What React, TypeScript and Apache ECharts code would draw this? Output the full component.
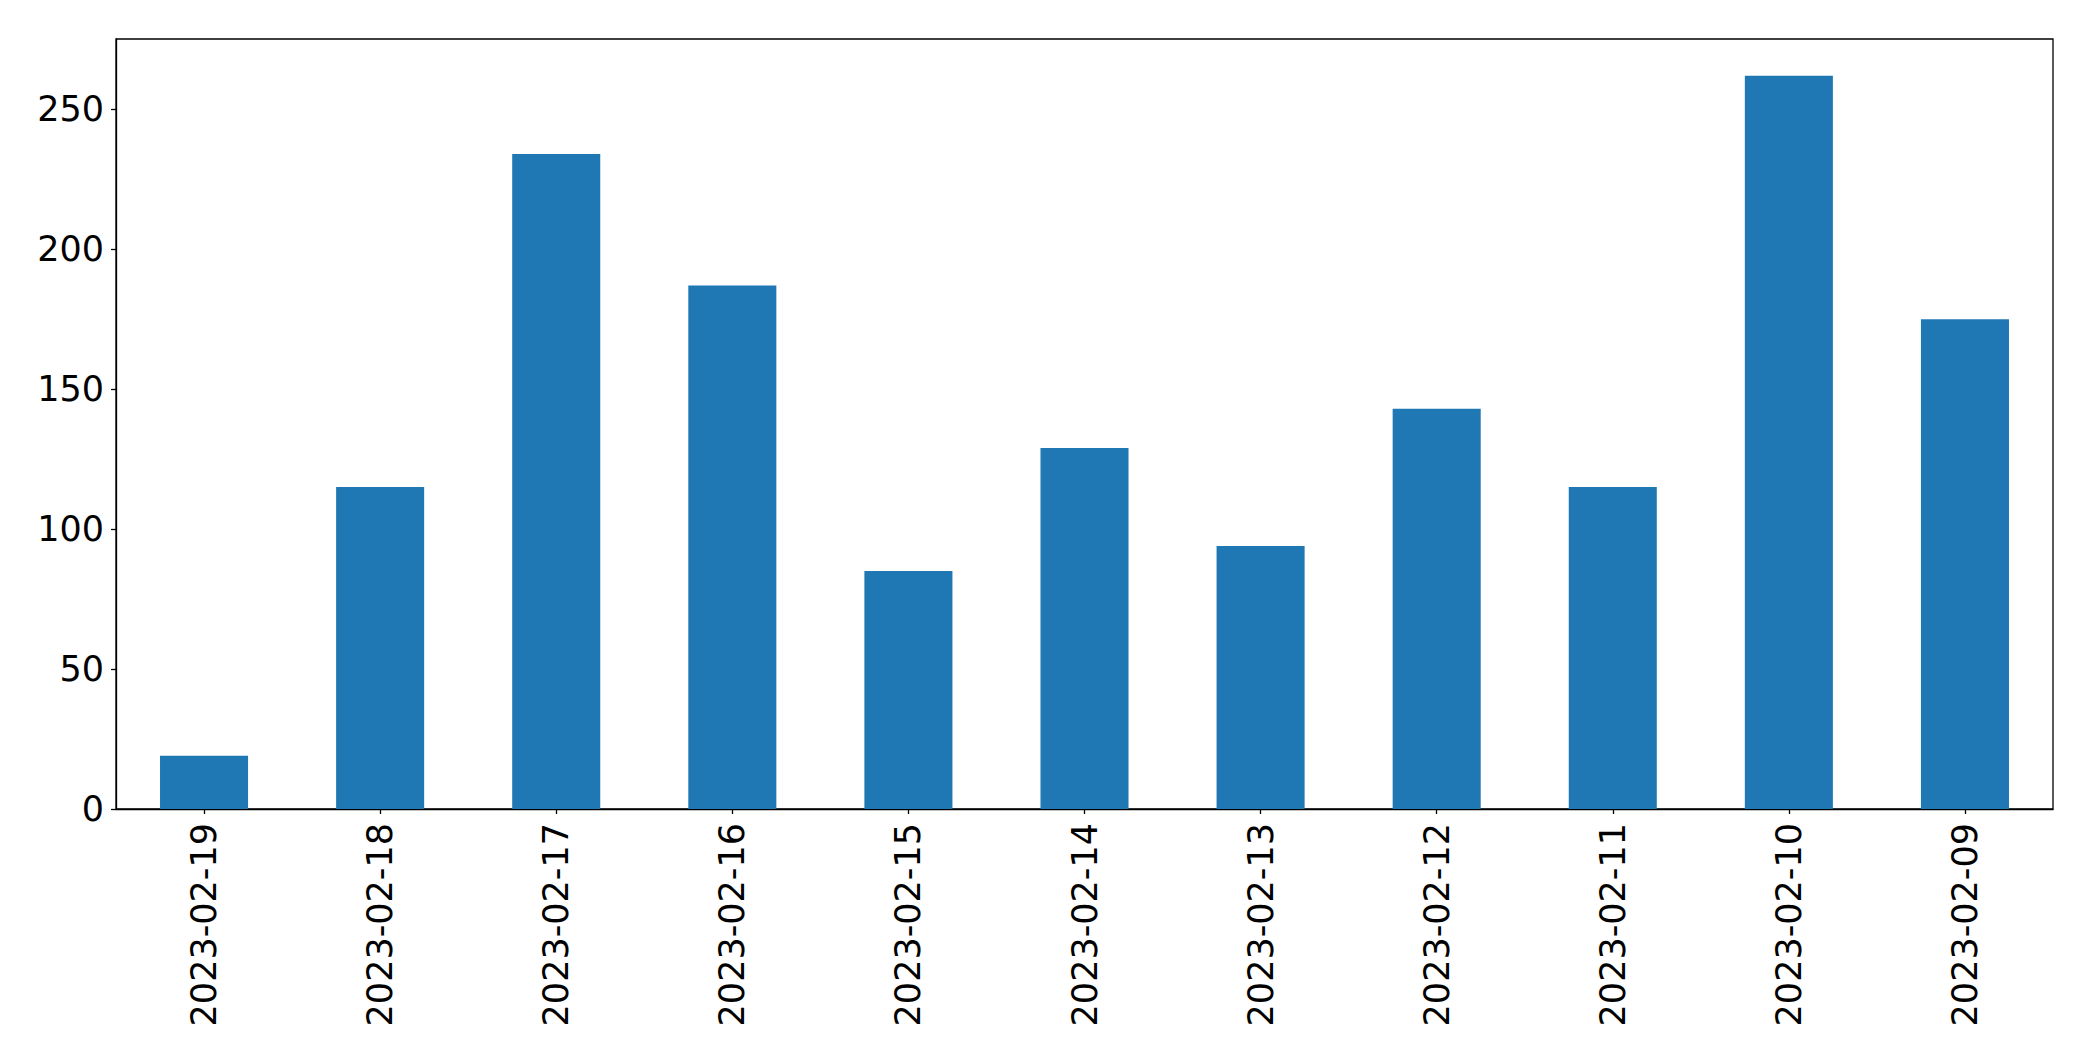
import React, { useEffect, useRef } from "react";
import * as echarts from "echarts";

const categories = [
  "2023-02-19", "2023-02-18", "2023-02-17", "2023-02-16", "2023-02-15", "2023-02-14",
  "2023-02-13", "2023-02-12", "2023-02-11", "2023-02-10", "2023-02-09",
];
const values = [19, 115, 234, 187, 85, 129, 94, 143, 115, 262, 175];
const yTicks = [0, 50, 100, 150, 200, 250];

export default function App() {
  const ref = useRef<HTMLDivElement>(null);
  useEffect(() => {
    document.body.style.margin = "0";
    const chart = echarts.init(ref.current!, null, { renderer: "svg" });
    const yMax = Math.max(...values) * 1.05;
    chart.setOption({
      animation: false,
      backgroundColor: "#ffffff",
      grid: {
        left: 116,
        right: 40,
        top: 39,
        bottom: 252,
        show: true,
        borderColor: "#000000",
        borderWidth: 1.3,
        containLabel: false,
      },
      xAxis: {
        type: "category",
        data: categories,
        boundaryGap: true,
        axisLine: { show: true, lineStyle: { color: "#000000", width: 1.3 } },
        axisTick: { show: true, alignWithLabel: true, length: 5, lineStyle: { color: "#000000", width: 1.3 } },
        axisLabel: {
          rotate: 90,
          margin: 14,
          fontSize: 35,
          color: "#000000",
          fontFamily: "DejaVu Sans",
          interval: 0,
        },
        splitLine: { show: false },
      },
      yAxis: {
        type: "value",
        min: 0,
        max: yMax,
        interval: 50,
        axisLine: { show: true, lineStyle: { color: "#000000", width: 1.3 } },
        axisTick: { show: true, length: 5, lineStyle: { color: "#000000", width: 1.3 } },
        axisLabel: {
          margin: 12,
          fontSize: 35,
          color: "#000000",
          fontFamily: "DejaVu Sans",
          showMaxLabel: false,
          formatter: (v: number) => (yTicks.includes(v) ? String(v) : ""),
        },
        splitLine: { show: false },
      },
      series: [
        {
          type: "bar",
          data: values,
          barWidth: "50%",
          itemStyle: { color: "#1f77b4" },
        },
      ],
    });
    return () => chart.dispose();
  }, []);
  return <div ref={ref} style={{ width: 2093, height: 1061, position: "absolute", left: 0, top: 0 }} />;
}
